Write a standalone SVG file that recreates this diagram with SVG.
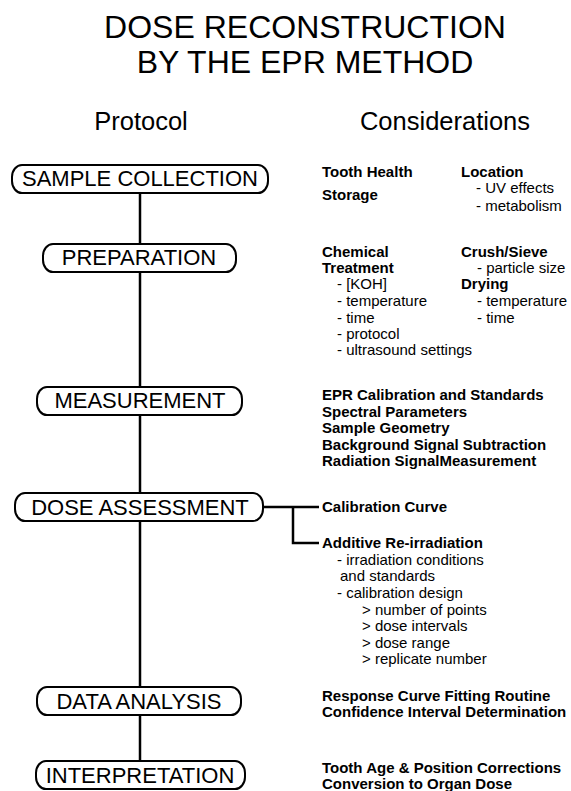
<svg xmlns="http://www.w3.org/2000/svg" width="571" height="791" viewBox="0 0 571 791">
<style>
text{font-family:"Liberation Sans",Arial,Helvetica,sans-serif;fill:#000}
.title{font-size:32px;text-anchor:middle}
.head{font-size:25.5px;text-anchor:middle}
.pill rect{fill:#fff;stroke:#000;stroke-width:2}
.pill text{font-size:22px;text-anchor:middle}
.b{font-size:15px;font-weight:bold}
.r{font-size:15px}
.conn{stroke:#000;stroke-width:2.5;fill:none}
</style>
<rect width="571" height="791" fill="#fff"/>
<text class="title" x="305" y="38">DOSE RECONSTRUCTION</text>
<text class="title" x="305" y="73">BY THE EPR METHOD</text>
<text class="head" x="141" y="130">Protocol</text>
<text class="head" x="445" y="130">Considerations</text>

<g id="connectors" class="conn">
<path d="M140,193 V244"/>
<path d="M140,272 V387"/>
<path d="M140,415 V493"/>
<path d="M140,521 V687"/>
<path d="M140,715 V761"/>
<path d="M264,507 H319 M293,507 V543 H319"/>
</g>

<g id="sample-collection" class="pill"><rect x="12" y="165" width="256" height="28" rx="10" ry="12"/><text x="140" y="186">SAMPLE COLLECTION</text></g>
<g id="preparation" class="pill"><rect x="43" y="244" width="193" height="28" rx="10" ry="12"/><text x="139" y="265">PREPARATION</text></g>
<g id="measurement" class="pill"><rect x="37" y="387" width="205" height="28" rx="10" ry="12"/><text x="140" y="408">MEASUREMENT</text></g>
<g id="dose-assessment" class="pill"><rect x="15" y="493" width="248" height="28" rx="10" ry="12"/><text x="140" y="515">DOSE ASSESSMENT</text></g>
<g id="data-analysis" class="pill"><rect x="37" y="687" width="204" height="28" rx="10" ry="12"/><text x="139" y="709">DATA ANALYSIS</text></g>
<g id="interpretation" class="pill"><rect x="36" y="761" width="209" height="28" rx="10" ry="12"/><text x="140" y="783">INTERPRETATION</text></g>

<g id="considerations-sample">
<text class="b" x="322" y="177">Tooth Health</text>
<text class="b" x="322" y="200">Storage</text>
<text class="b" x="461" y="177">Location</text>
<text class="r" x="476" y="193">- UV effects</text>
<text class="r" x="476" y="211">- metabolism</text>
</g>
<g id="considerations-preparation">
<text class="b" x="322" y="257">Chemical</text>
<text class="b" x="322" y="273">Treatment</text>
<text class="r" x="337" y="289">- [KOH]</text>
<text class="r" x="337" y="306">- temperature</text>
<text class="r" x="337" y="323">- time</text>
<text class="r" x="337" y="339">- protocol</text>
<text class="r" x="337" y="355">- ultrasound settings</text>
<text class="b" x="461" y="257">Crush/Sieve</text>
<text class="r" x="477" y="273">- particle size</text>
<text class="b" x="461" y="289">Drying</text>
<text class="r" x="477" y="306">- temperature</text>
<text class="r" x="477" y="323">- time</text>
</g>
<g id="considerations-measurement">
<text class="b" x="322" y="400">EPR Calibration and Standards</text>
<text class="b" x="322" y="417">Spectral Parameters</text>
<text class="b" x="322" y="433">Sample Geometry</text>
<text class="b" x="322" y="450">Background Signal Subtraction</text>
<text class="b" x="322" y="466">Radiation SignalMeasurement</text>
</g>
<g id="considerations-dose">
<text class="b" x="322" y="512">Calibration Curve</text>
<text class="b" x="322" y="548">Additive Re-irradiation</text>
<text class="r" x="337" y="565">- irradiation conditions</text>
<text class="r" x="340" y="581">and standards</text>
<text class="r" x="337" y="598">- calibration design</text>
<text class="r" x="362" y="615">&gt; number of points</text>
<text class="r" x="362" y="631">&gt; dose intervals</text>
<text class="r" x="362" y="648">&gt; dose range</text>
<text class="r" x="362" y="664">&gt; replicate number</text>
</g>
<g id="considerations-analysis">
<text class="b" x="322" y="701">Response Curve Fitting Routine</text>
<text class="b" x="322" y="717">Confidence Interval Determination</text>
</g>
<g id="considerations-interpretation">
<text class="b" x="322" y="773">Tooth Age &amp; Position Corrections</text>
<text class="b" x="322" y="789">Conversion to Organ Dose</text>
</g>
</svg>
